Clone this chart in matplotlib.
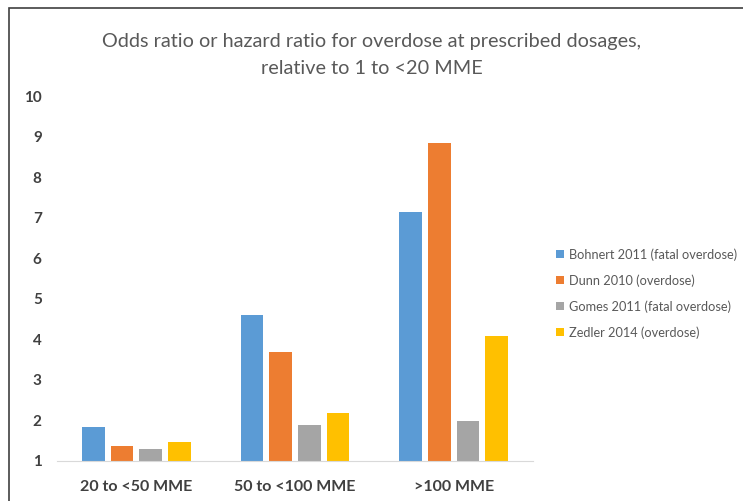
import numpy as np
import matplotlib.pyplot as plt
from matplotlib.patches import Rectangle

categories = ['20 to <50 MME', '50 to <100 MME', '>100 MME']
series_names = ['Bohnert 2011 (fatal overdose)', 'Dunn 2010 (overdose)',
                'Gomes 2011 (fatal overdose)', 'Zedler 2014 (overdose)']
bohnert = [1.85, 4.6, 7.15]
dunn = [1.38, 3.68, 8.85]
gomes = [1.29, 1.89, 1.99]
zedler = [1.48, 2.18, 4.07]
colors = ['#5B9BD5', '#ED7D31', '#A5A5A5', '#FFC000']

plt.rcParams['font.family'] = ['Lato', 'DejaVu Sans']

fig = plt.figure(figsize=(7.43, 5.01), dpi=100)
ax = fig.add_axes([57/743, 40/501, 476/743, 365/501])

x = np.arange(len(categories))
stride = 0.181
width = 0.143
for i, (vals, name) in enumerate(zip([bohnert, dunn, gomes, zedler], series_names)):
    ax.bar(x + (i - 1.5) * stride, vals, width, color=colors[i], label=name, zorder=2)

ax.set_xlim(-0.5, 2.5)
ax.set_ylim(1, 10)
ax.set_yticks(range(1, 11))
ax.set_xticks(x)
ax.set_xticklabels(categories)
for s in ['top', 'right', 'left']:
    ax.spines[s].set_visible(False)
ax.spines['bottom'].set_color('#d9d9d9')
ax.tick_params(axis='both', length=0)
ax.tick_params(axis='y', pad=11, labelsize=11, labelcolor='#404040')
ax.tick_params(axis='x', pad=14, labelsize=11.5, labelcolor='#404040')
for lab in ax.get_xticklabels() + ax.get_yticklabels():
    lab.set_fontweight('bold')

fig.text(0.5, 1 - 42/501, 'Odds ratio or hazard ratio for overdose at prescribed dosages,',
         ha='center', va='center', fontsize=14.3, color='#595959')
fig.text(0.5, 1 - 68/501, 'relative to 1 to <20 MME',
         ha='center', va='center', fontsize=14.3, color='#595959')

leg = fig.legend(loc='upper left', bbox_to_anchor=(551/743, 1 - 243/501),
                 frameon=False, fontsize=9.2, handlelength=0.6, handleheight=0.6,
                 handletextpad=0.4, labelspacing=1.05, borderaxespad=0)
for t in leg.get_texts():
    t.set_color('#595959')

# outer frame of the screenshot
fig.patches.append(Rectangle((9/743, -0.05), 1.0, 1 - 8/501 + 0.05,
                             transform=fig.transFigure, fill=False,
                             edgecolor='#404040', linewidth=1.2))

plt.savefig('out.png', dpi=100)
